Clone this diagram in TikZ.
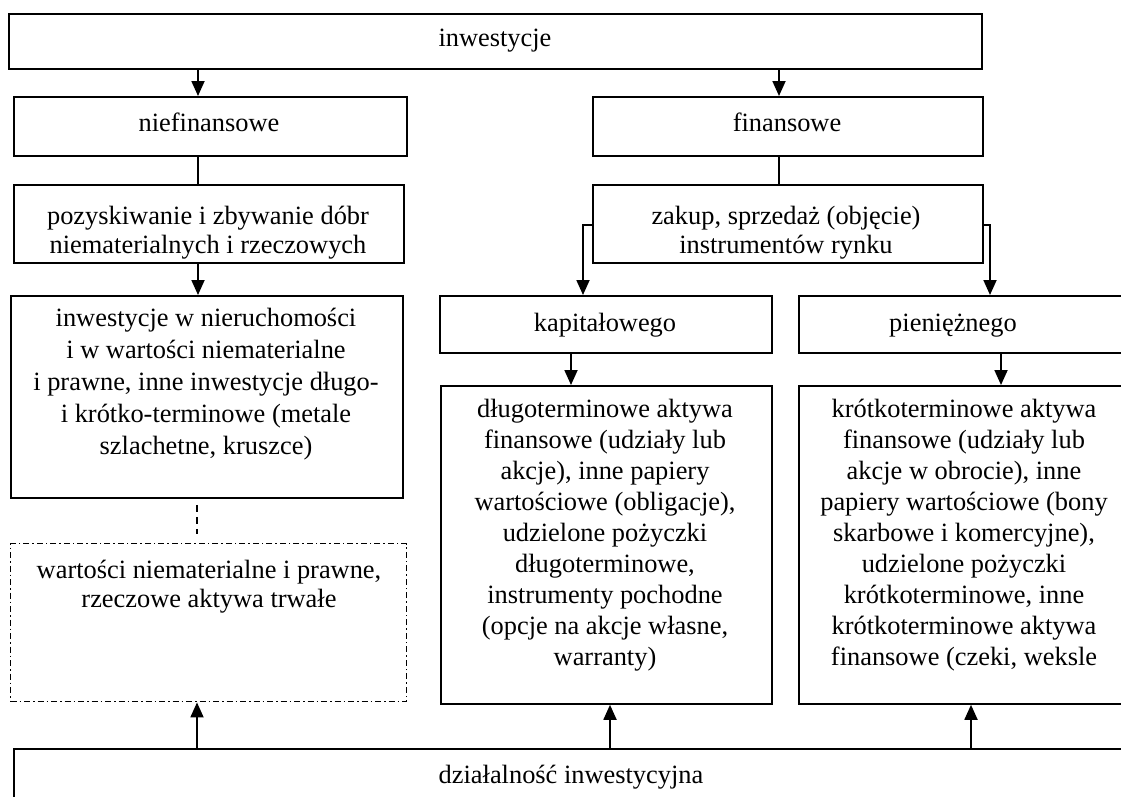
\documentclass[tikz,border=0pt]{standalone}
\usepackage{fontspec}
\setmainfont{Liberation Serif}
\usetikzlibrary{arrows.meta}
\begin{document}
\begin{tikzpicture}[x=1pt,y=-1pt,
  box/.style={draw, line width=1.8pt, rectangle, inner sep=0pt, anchor=north west},
  dashbox/.style={draw, line width=1.4pt, rectangle, inner sep=0pt, anchor=north west,
    dash pattern=on 6pt off 3pt on 1.5pt off 3pt},
  txt/.style={inner sep=0pt, align=center, font=\fontsize{26.4}{31}\selectfont},
  txtml/.style={txt, anchor=north, execute at begin node=\strut},
  ln/.style={line width=1.8pt},
  arr/.style={line width=1.8pt, -{Triangle[length=15pt,width=13pt]}},
  dashln/.style={line width=1.6pt, dash pattern=on 7pt off 5pt}]
\clip (0,0) rectangle (1121,796);

% boxes
\node[box, minimum width=973pt, minimum height=55pt] (top) at (8,13) {};
\node[box, minimum width=393pt, minimum height=59pt] (niefin) at (13,96) {};
\node[box, minimum width=390pt, minimum height=59pt] (fin) at (592,96) {};
\node[box, minimum width=390pt, minimum height=78pt] (pozysk) at (13,184) {};
\node[box, minimum width=390pt, minimum height=78pt] (zakup) at (592,184) {};
\node[box, minimum width=392pt, minimum height=202pt] (inw) at (10,295) {};
\node[box, minimum width=332pt, minimum height=57pt] (kap) at (439,295) {};
\node[box, minimum width=332pt, minimum height=57pt] (pien) at (798,295) {};
\node[box, minimum width=331pt, minimum height=318pt] (dlugo) at (440,385) {};
\node[box, minimum width=332pt, minimum height=318pt] (krotko) at (798,385) {};
\node[dashbox, minimum width=396pt, minimum height=158pt] (wart) at (10,543) {};
\node[box, minimum width=1117pt, minimum height=62pt] (dzial) at (13,748) {};

% labels
\node[txt, anchor=base] (ttop) at (495,46) {inwestycje};
\node[txt, anchor=base] (tniefin) at (209,131) {niefinansowe};
\node[txt, anchor=base] (tfin) at (787,131) {finansowe};
\begin{scope}
  \clip (pozysk.north west) rectangle (pozysk.south east);
  \node[txtml, font=\fontsize{26.4}{29}\selectfont] (tpozysk) at (208,205.7)
    {pozyskiwanie i zbywanie dóbr\\niematerialnych i rzeczowych};
\end{scope}
\begin{scope}
  \clip (zakup.north west) rectangle (zakup.south east);
  \node[txtml, font=\fontsize{26.4}{29}\selectfont] (tzakup) at (786,205.7)
    {zakup, sprzedaż (objęcie)\\instrumentów rynku};
\end{scope}
\node[txtml, font=\fontsize{26.4}{32}\selectfont] (tinw) at (206,307.6)
  {inwestycje w nieruchomości\\i w wartości niematerialne\\i prawne, inne inwestycje długo-\\i krótko-terminowe (metale\\szlachetne, kruszce)};
\node[txt, anchor=base] (tkap) at (605,331) {kapitałowego};
\node[txt, anchor=base] (tpien) at (953,331) {pieniężnego};
\node[txtml] (tdlugo) at (605,399.3)
  {długoterminowe aktywa\\finansowe (udziały lub\\akcje), inne papiery\\wartościowe (obligacje),\\udzielone pożyczki\\długoterminowe,\\instrumenty pochodne\\(opcje na akcje własne,\\warranty)};
\node[txtml] (tkrotko) at (964,399.3)
  {krótkoterminowe aktywa\\finansowe (udziały lub\\akcje w obrocie), inne\\papiery wartościowe (bony\\skarbowe i komercyjne),\\udzielone pożyczki\\krótkoterminowe, inne\\krótkoterminowe aktywa\\finansowe (czeki, weksle};
\node[txtml, font=\fontsize{26.4}{29}\selectfont] (twart) at (209,559.7)
  {wartości niematerialne i prawne,\\rzeczowe aktywa trwałe};
\node[txt, anchor=base] (tdzial) at (571,783) {działalność inwestycyjna};

% connectors
\draw[arr] (top.south -| 198,0) -- (niefin.north -| 198,0);
\draw[arr] (top.south -| 779,0) -- (fin.north -| 779,0);
\draw[ln] (niefin.south -| 198,0) -- (pozysk.north -| 198,0);
\draw[ln] (fin.south -| 779,0) -- (zakup.north -| 779,0);
\draw[arr] (pozysk.south -| 198,0) -- (inw.north -| 198,0);
\draw[arr] (zakup.west |- 0,225) -| (kap.north -| 583,0);
\draw[arr] (zakup.east |- 0,225) -| (pien.north -| 990,0);
\draw[arr] (kap.south -| 571,0) -- (dlugo.north -| 571,0);
\draw[arr] (pien.south -| 1001,0) -- (krotko.north -| 1001,0);
\draw[dashln, shorten <=6pt, shorten >=9pt] (inw.south -| 197,0) -- (wart.north -| 197,0);
\draw[arr] (dzial.north -| 197,0) -- (wart.south -| 197,0);
\draw[arr] (dzial.north -| 610,0) -- (dlugo.south -| 610,0);
\draw[arr] (dzial.north -| 971,0) -- (krotko.south -| 971,0);
\end{tikzpicture}
\end{document}
